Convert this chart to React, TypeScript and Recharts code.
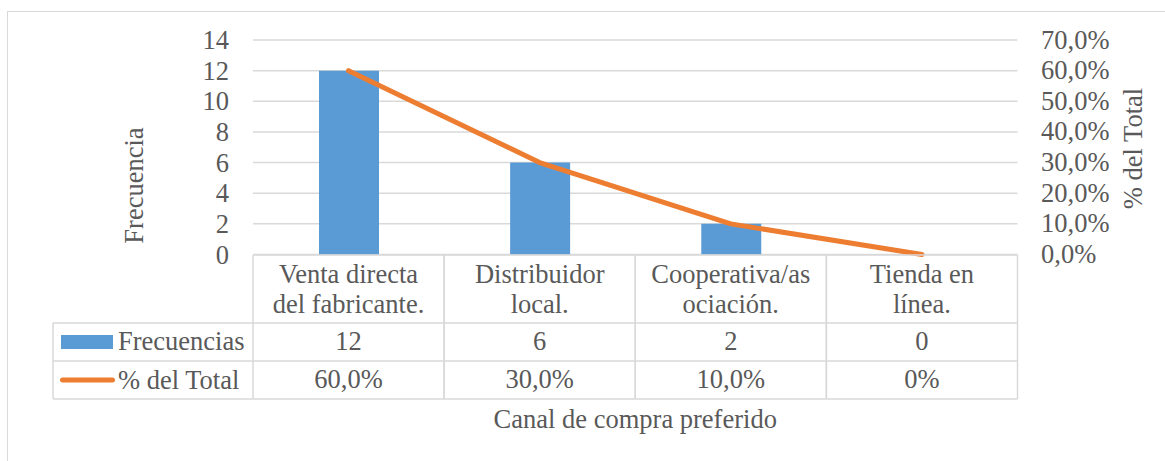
import React from 'react';
import { ComposedChart, Bar, Line, XAxis, YAxis, CartesianGrid } from 'recharts';

const categories = ['Venta directa del fabricante.', 'Distribuidor local.', 'Cooperativa/asociación.', 'Tienda en línea.'];
const categoryLines = [
  ['Venta directa', 'del fabricante.'],
  ['Distribuidor', 'local.'],
  ['Cooperativa/as', 'ociación.'],
  ['Tienda en', 'línea.'],
];
const frequencies = [12, 6, 2, 0];
const percentages = [0.6, 0.3, 0.1, 0];
const freqLabels = ['12', '6', '2', '0'];
const pctLabels = ['60,0%', '30,0%', '10,0%', '0%'];
const leftTicks = [0, 2, 4, 6, 8, 10, 12, 14];
const rightTicks = [0, 0.1, 0.2, 0.3, 0.4, 0.5, 0.6, 0.7];
const seriesNames = ['Frecuencias', '% del Total'];

const data = categories.map((c, i) => ({ name: c, freq: frequencies[i], pct: percentages[i] }));

const W = 1165;
const H = 461;
const LEFT_W = 253;
const RIGHT_W = 147.5;
const TOP = 40;
const XAXIS_H = 206.5;
const FONT = '"Liberation Serif", "Times New Roman", serif';
const FS = 26.5;
const TXT = '#595959';
const GRID = '#D9D9D9';
const BLUE = '#5B9BD5';
const ORANGE = '#ED7D31';
const BAND = (W - LEFT_W - RIGHT_W) / categories.length;
const LEGEND_W = 200;

const fmtPct = (v: number) => (v * 100).toFixed(1).replace('.', ',') + '%';

const LeftTick = (props: any) => {
  const { x, y, payload } = props;
  return (
    <text x={x - 24} y={y + 9} textAnchor="end" fill={TXT} fontFamily={FONT} fontSize={FS}>
      {payload.value}
    </text>
  );
};

const RightTick = (props: any) => {
  const { x, y, payload } = props;
  return (
    <text x={x + 23.5} y={y + 8.5} textAnchor="start" fill={TXT} fontFamily={FONT} fontSize={FS}>
      {fmtPct(payload.value)}
    </text>
  );
};

const TableTick = (props: any) => {
  const { x, y, index } = props;
  const i = index as number;
  const l = x - BAND / 2;
  const r = x + BAND / 2;
  const rows = [y + 0.5, y + 68.5, y + 106.5, y + 144.5];
  const lineProps = { stroke: GRID, strokeWidth: 1.5 };
  return (
    <g>
      <line x1={l} x2={r} y1={rows[0]} y2={rows[0]} {...lineProps} />
      <line x1={l} x2={r} y1={rows[1]} y2={rows[1]} {...lineProps} />
      <line x1={l} x2={r} y1={rows[2]} y2={rows[2]} {...lineProps} />
      <line x1={l} x2={r} y1={rows[3]} y2={rows[3]} {...lineProps} />
      <line x1={l} x2={l} y1={rows[0]} y2={rows[3]} {...lineProps} />
      <line x1={r} x2={r} y1={rows[0]} y2={rows[3]} {...lineProps} />
      <text x={x} y={y + 28.5} textAnchor="middle" fill={TXT} fontFamily={FONT} fontSize={FS}>
        {categoryLines[i][0]}
      </text>
      <text x={x} y={y + 58.5} textAnchor="middle" fill={TXT} fontFamily={FONT} fontSize={FS}>
        {categoryLines[i][1]}
      </text>
      <text x={x} y={y + 95.5} textAnchor="middle" fill={TXT} fontFamily={FONT} fontSize={FS}>
        {freqLabels[i]}
      </text>
      <text x={x} y={y + 133.5} textAnchor="middle" fill={TXT} fontFamily={FONT} fontSize={FS}>
        {pctLabels[i]}
      </text>
      {i === 0 && (
        <g>
          <line x1={l - LEGEND_W} x2={l} y1={rows[1]} y2={rows[1]} {...lineProps} />
          <line x1={l - LEGEND_W} x2={l} y1={rows[2]} y2={rows[2]} {...lineProps} />
          <line x1={l - LEGEND_W} x2={l} y1={rows[3]} y2={rows[3]} {...lineProps} />
          <line x1={l - LEGEND_W} x2={l - LEGEND_W} y1={rows[1]} y2={rows[3]} {...lineProps} />
          <rect x={l - 192} y={y + 80.5} width={52} height={14} fill={BLUE} />
          <line x1={l - 190.5} x2={l - 140.5} y1={y + 125.5} y2={y + 125.5} stroke={ORANGE} strokeWidth={5} strokeLinecap="round" />
          <text x={l - 135} y={y + 95.5} textAnchor="start" fill={TXT} fontFamily={FONT} fontSize={FS}>
            {seriesNames[0]}
          </text>
          <text x={l - 135} y={y + 134.5} textAnchor="start" fill={TXT} fontFamily={FONT} fontSize={FS}>
            {seriesNames[1]}
          </text>
          <text x={LEFT_W + (W - LEFT_W - RIGHT_W) / 2} y={y + 173.5} textAnchor="middle" fill={TXT} fontFamily={FONT} fontSize={FS}>
            Canal de compra preferido
          </text>
        </g>
      )}
    </g>
  );
};

const LeftTitle = () => (
  <text x={143} y={185.5} transform="rotate(-90, 143, 185.5)" textAnchor="middle" fill={TXT} fontFamily={FONT} fontSize={FS}>
    Frecuencia
  </text>
);

const RightTitle = () => (
  <text x={1142} y={148.5} transform="rotate(-90, 1142, 148.5)" textAnchor="middle" fill={TXT} fontFamily={FONT} fontSize={FS}>
    % del Total
  </text>
);

export default function App() {
  return (
    <div style={{ position: 'absolute', left: 0, top: 0, width: W, height: H, overflow: 'hidden', background: '#fff' }}>
      <div style={{ position: 'absolute', left: 7, top: 11, width: 1300, height: 600, border: `1.5px solid ${GRID}`, boxSizing: 'border-box' }} />
      <div style={{ position: 'absolute', left: 0, top: 0 }}>
        <ComposedChart width={W} height={H} data={data} margin={{ top: TOP, right: 0, bottom: 0, left: 0 }}>
          <CartesianGrid yAxisId="left" vertical={false} horizontal={true} stroke={GRID} strokeWidth={1.5} />
          <XAxis
            dataKey="name"
            xAxisId={0}
            height={XAXIS_H}
            axisLine={false}
            tickLine={false}
            tickSize={0}
            tickMargin={0}
            interval={0}
            tick={<TableTick />}
          />
          <YAxis
            yAxisId="left"
            orientation="left"
            width={LEFT_W}
            domain={[0, 14]}
            ticks={leftTicks}
            interval={0}
            axisLine={false}
            tickLine={false}
            tickSize={0}
            tickMargin={0}
            tick={<LeftTick />}
            label={<LeftTitle />}
          />
          <YAxis
            yAxisId="right"
            orientation="right"
            width={RIGHT_W}
            domain={[0, 0.7]}
            ticks={rightTicks}
            interval={0}
            axisLine={false}
            tickLine={false}
            tickSize={0}
            tickMargin={0}
            tick={<RightTick />}
            label={<RightTitle />}
          />
          <Bar yAxisId="left" dataKey="freq" fill={BLUE} barSize={60} isAnimationActive={false} />
          <Line
            yAxisId="right"
            type="linear"
            dataKey="pct"
            stroke={ORANGE}
            strokeWidth={5}
            strokeLinecap="round"
            strokeLinejoin="round"
            dot={false}
            activeDot={false}
            isAnimationActive={false}
          />
        </ComposedChart>
      </div>
    </div>
  );
}
